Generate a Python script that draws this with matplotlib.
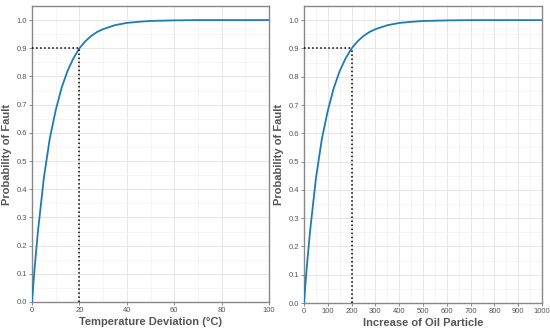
import numpy as np
import matplotlib.pyplot as plt

plt.rcParams["font.family"] = ["Liberation Sans", "DejaVu Sans"]

# values
temp_x = [0, 1, 2.5, 5, 7.5, 10, 12.5, 15, 17.5, 20, 22.5, 25, 27.5, 30, 35, 40, 45, 50, 55, 60, 70, 100]
temp_p = [0, 0.11, 0.25, 0.44, 0.58, 0.68, 0.76, 0.82, 0.865, 0.90, 0.925, 0.944, 0.958, 0.968, 0.982, 0.99, 0.994, 0.997, 0.998, 0.999, 1.0, 1.0]

oil_x = [0, 10, 25, 50, 75, 100, 125, 150, 175, 200, 225, 250, 275, 300, 350, 400, 450, 500, 550, 600, 700, 1000]
oil_p = [0, 0.11, 0.25, 0.44, 0.58, 0.68, 0.76, 0.82, 0.865, 0.90, 0.925, 0.944, 0.958, 0.968, 0.982, 0.99, 0.994, 0.997, 0.998, 0.999, 1.0, 1.0]

temp_cut = 20
oil_cut = 200
p_cut = 0.9

line_col = "#1f7ab8"
text_col = "#555555"


def panel(ax, x, p, cut, xmax, major, minor, xlabel):
    ax.plot(x, p, color=line_col, lw=1.3, zorder=3, solid_joinstyle="round")
    ax.plot([0, cut], [p_cut, p_cut], ":", color="black", lw=1.1, zorder=4)
    ax.plot([cut, cut], [0, p_cut], ":", color="black", lw=1.1, zorder=4)
    ax.set_xlim(0, xmax)
    ax.set_ylim(0, 1.05)
    ax.set_xticks(np.arange(0, xmax + 1, major))
    ax.set_xticks(np.arange(minor, xmax, major), minor=True)
    ax.set_yticks(np.arange(0, 1.01, 0.1))
    ax.set_yticks(np.arange(0.05, 1.05, 0.1), minor=True)
    ax.set_yticklabels(["%.1f" % v for v in np.arange(0, 1.01, 0.1)])
    ax.grid(which="major", color="#e6e6e6", lw=0.7)
    ax.grid(which="minor", color="#f2f2f2", lw=0.5)
    ax.set_axisbelow(True)
    ax.tick_params(which="major", length=2, width=0.6, color="#777777",
                   labelsize=5.5, labelcolor=text_col, pad=1.5)
    ax.tick_params(which="minor", length=0)
    for s in ax.spines.values():
        s.set_color("#888888")
        s.set_linewidth(1.0)
    ax.set_xlabel(xlabel, fontsize=8, fontweight="bold", color=text_col, labelpad=2)
    ax.set_ylabel("Probability of Fault", fontsize=8, fontweight="bold", color=text_col, labelpad=3)


fig = plt.figure(figsize=(5.5, 3.3), dpi=100)
ax1 = fig.add_axes([32 / 550, 28 / 330, 237 / 550, 296 / 330])
ax2 = fig.add_axes([304 / 550, 27 / 330, 238 / 550, 297 / 330])

panel(ax1, temp_x, temp_p, temp_cut, 100, 20, 10, "Temperature Deviation (°C)")
panel(ax2, oil_x, oil_p, oil_cut, 1000, 100, 50, "Increase of Oil Particle")

fig.savefig("out.png", dpi=100)
